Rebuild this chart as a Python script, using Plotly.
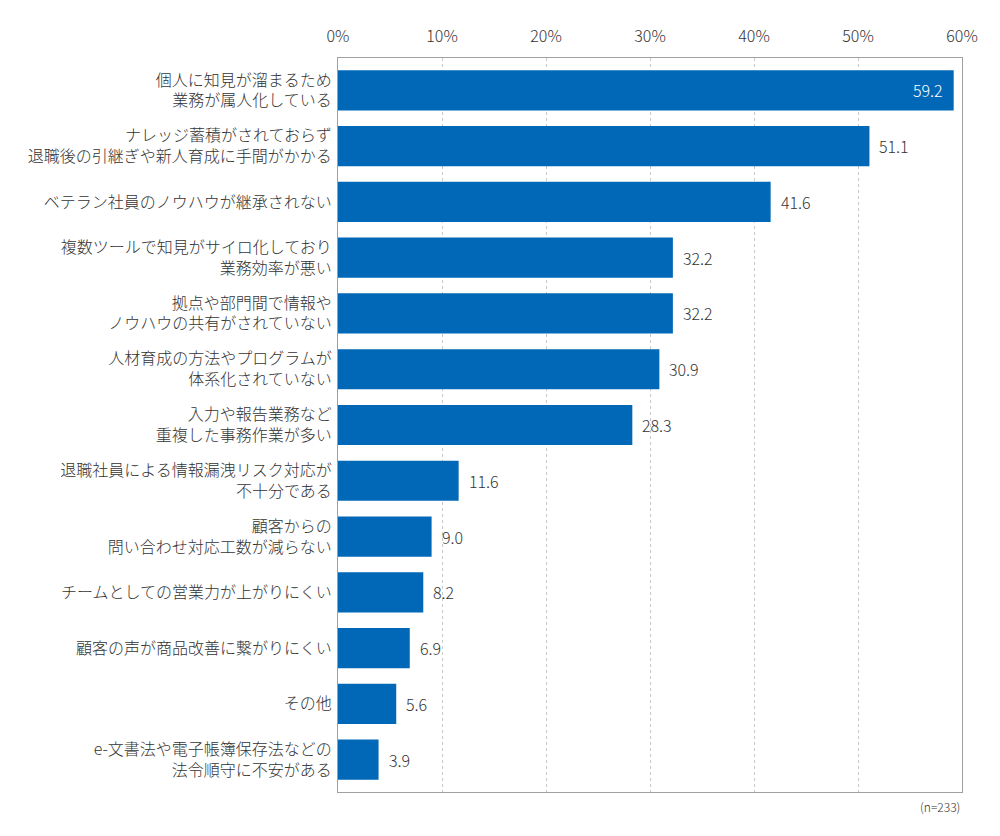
import plotly.graph_objects as go

categories = [
    "個人に知見が溜まるため<br>業務が属人化している",
    "ナレッジ蓄積がされておらず<br>退職後の引継ぎや新人育成に手間がかかる",
    "ベテラン社員のノウハウが継承されない",
    "複数ツールで知見がサイロ化しており<br>業務効率が悪い",
    "拠点や部門間で情報や<br>ノウハウの共有がされていない",
    "人材育成の方法やプログラムが<br>体系化されていない",
    "入力や報告業務など<br>重複した事務作業が多い",
    "退職社員による情報漏洩リスク対応が<br>不十分である",
    "顧客からの<br>問い合わせ対応工数が減らない",
    "チームとしての営業力が上がりにくい",
    "顧客の声が商品改善に繋がりにくい",
    "その他",
    "e-文書法や電子帳簿保存法などの<br>法令順守に不安がある",
]
values = [59.2, 51.1, 41.6, 32.2, 32.2, 30.9, 28.3, 11.6, 9.0, 8.2, 6.9, 5.6, 3.9]
tick_vals = [0, 10, 20, 30, 40, 50, 60]
tick_text = ["0%", "10%", "20%", "30%", "40%", "50%", "60%"]

FONT = "Noto Sans CJK JP"
BAR = "#0068B7"
TXT = "#333333"
W = 300

ys = list(range(len(categories)))

fig = go.Figure(go.Bar(
    x=values,
    y=ys,
    orientation="h",
    marker=dict(color=BAR, line=dict(width=0)),
    width=0.72,
    hoverinfo="skip",
))

annotations = []
for i, v in enumerate(values):
    inside = v >= 55
    annotations.append(dict(
        x=v, y=i, xref="x", yref="y", text=f"{v:.1f}", showarrow=False,
        xanchor="right" if inside else "left",
        xshift=-9 if inside else 8,
        font=dict(family=FONT, size=16, weight=W, color="white" if inside else TXT),
    ))

annotations.append(dict(
    text="(n=233)", x=1, y=0, xref="paper", yref="paper",
    xanchor="right", yanchor="top", yshift=-4, showarrow=False,
    font=dict(family=FONT, size=12, weight=W, color=TXT),
))

fig.update_layout(
    width=1000, height=836,
    paper_bgcolor="white", plot_bgcolor="white",
    margin=dict(l=330, r=46, t=50, b=52),
    showlegend=False,
    font=dict(family=FONT, color=TXT),
    annotations=annotations,
)
fig.update_xaxes(
    range=[0, 60], side="top", tickvals=tick_vals, ticktext=tick_text,
    tickfont=dict(family=FONT, size=16, weight=W, color=TXT),
    showgrid=True, gridcolor="#c8c8c8", griddash="dot", gridwidth=1,
    showline=True, linecolor="#a0a0a0", linewidth=1, mirror=True,
    zeroline=False, ticks="", ticklabelstandoff=9,
)
fig.update_yaxes(
    range=[len(categories) - 0.42, -0.58],
    tickvals=ys, ticktext=categories,
    tickfont=dict(family=FONT, size=16, weight=W, color=TXT),
    showgrid=False, showline=True, linecolor="#a0a0a0", linewidth=1, mirror=True,
    ticks="", ticklabelstandoff=2, zeroline=False,
)

fig.write_html("out.html")
